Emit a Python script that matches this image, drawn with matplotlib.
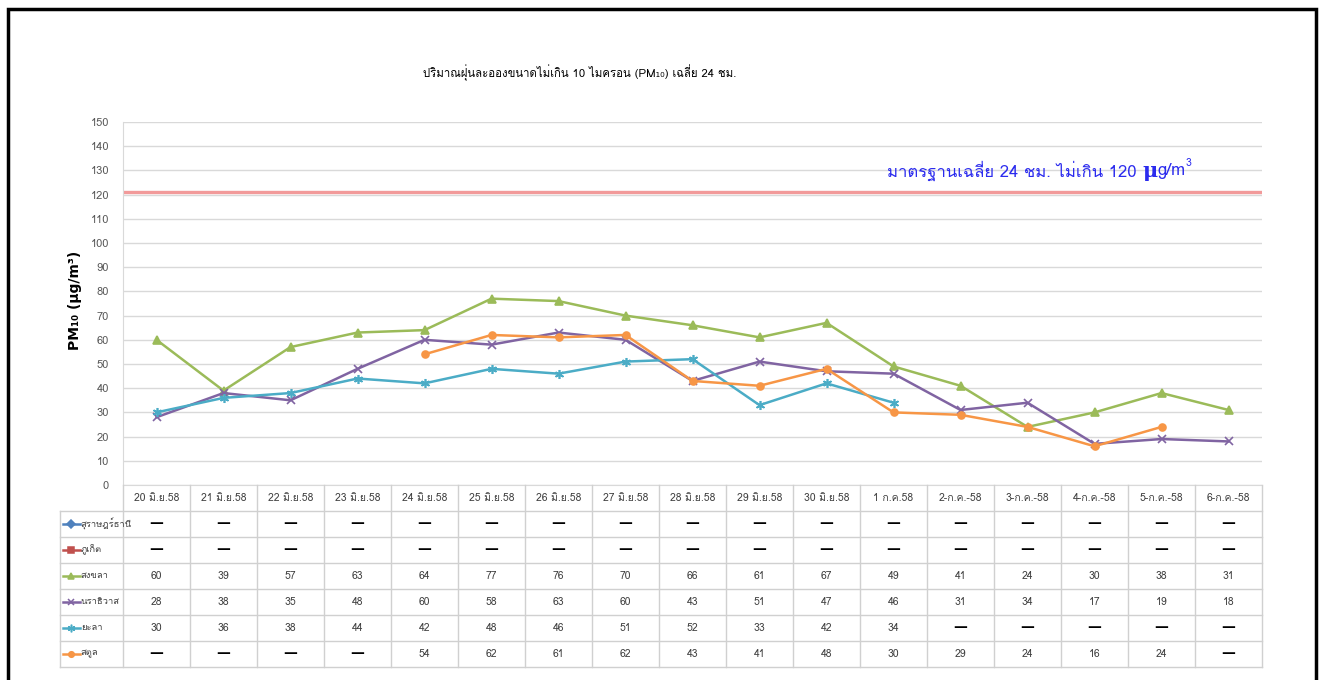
import matplotlib
matplotlib.use('Agg')
import matplotlib.pyplot as plt
from matplotlib import font_manager
from matplotlib.ft2font import FT2Font
from matplotlib.patches import Rectangle
import numpy as np

# ---- data ----
dates = ['20 มิ.ย.58', '21 มิ.ย.58', '22 มิ.ย.58', '23 มิ.ย.58', '24 มิ.ย.58', '25 มิ.ย.58',
         '26 มิ.ย.58', '27 มิ.ย.58', '28 มิ.ย.58', '29 มิ.ย.58', '30 มิ.ย.58', '1 ก.ค.58',
         '2-ก.ค.-58', '3-ก.ค.-58', '4-ก.ค.-58', '5-ก.ค.-58', '6-ก.ค.-58']
stations = ['สุราษฎร์ธานี', 'ภูเก็ต', 'สงขลา', 'นราธิวาส', 'ยะลา', 'สตูล']
surat = [None] * 17
phuket = [None] * 17
songkhla = [60, 39, 57, 63, 64, 77, 76, 70, 66, 61, 67, 49, 41, 24, 30, 38, 31]
narathiwat = [28, 38, 35, 48, 60, 58, 63, 60, 43, 51, 47, 46, 31, 34, 17, 19, 18]
yala = [30, 36, 38, 44, 42, 48, 46, 51, 52, 33, 42, 34, None, None, None, None, None]
satun = [None, None, None, None, 54, 62, 61, 62, 43, 41, 48, 30, 29, 24, 16, 24, None]
standard = 121  # red limit line as drawn

series = [surat, phuket, songkhla, narathiwat, yala, satun]
colors = ['#4F81BD', '#C0504D', '#9BBB59', '#8064A2', '#4BACC6', '#F79646']
markers = ['D', 's', '^', 'x', (6, 2, 0), 'o']
msizes = [5, 5, 5.5, 6, 6.5, 5]


# find an installed font with Thai glyphs
def thai_font():
    for f in font_manager.fontManager.ttflist:
        try:
            if 0x0E01 in FT2Font(f.fname).get_charmap():
                return f.name
        except Exception:
            pass
    return None


tf = thai_font()
fam = [tf, 'DejaVu Sans'] if tf else ['DejaVu Sans']
plt.rcParams['font.family'] = fam

W, H = 1323, 680
fig = plt.figure(figsize=(W / 100, H / 100), dpi=100)
fig.set_facecolor('white')

ax = fig.add_axes([123 / W, 195 / H, 1139 / W, 363 / H])
x = np.arange(len(dates))
for vals, c, m, ms in zip(series, colors, markers, msizes):
    y = np.array([np.nan if v is None else v for v in vals], float)
    ax.plot(x, y, color=c, marker=m, ms=ms, lw=1.8, mew=1.2)

ax.axhline(standard, color='#F29A9A', lw=2.4)
ax.set_xlim(-0.5, 16.5)
ax.set_ylim(0, 150)
ax.set_yticks(range(0, 151, 10))
ax.set_xticks([])
ax.tick_params(axis='y', length=0, labelsize=8, labelcolor='#595959', pad=10)
ax.grid(axis='y', color='#D9D9D9', lw=1)
ax.set_axisbelow(True)
for s in ['top', 'right']:
    ax.spines[s].set_visible(False)
for s in ['left', 'bottom']:
    ax.spines[s].set_color('#D9D9D9')

fig.text(75 / W, 1 - 300 / H, 'PM₁₀ (µg/m³)', rotation=90, ha='center', va='center',
         fontsize=10, fontweight='bold', family=['DejaVu Sans'])

fig.text(580 / W, 1 - 73 / H, 'ปริมาณฝุ่นละอองขนาดไม่เกิน 10 ไมครอน (PM₁₀) เฉลี่ย 24 ชม.',
         ha='center', va='center', fontsize=8.2, color='black')

t1 = fig.text(887 / W, 1 - 171 / H, 'มาตรฐานเฉลี่ย 24 ชม. ไม่เกิน 120 ', ha='left', va='center',
              fontsize=12, color='#2B2BEE')
t2 = ax.annotate('μ', xy=(1, 0.5), xycoords=t1, ha='left', va='center', fontsize=15,
                 fontweight='bold', family=['DejaVu Serif'], color='#2B2BEE')
t3 = ax.annotate('g/m', xy=(1, 0.5), xycoords=t2, ha='left', va='center', fontsize=12,
                 color='#2B2BEE')
ax.annotate('3', xy=(1, 1.0), xycoords=t3, ha='left', va='center', fontsize=7.5,
            color='#2B2BEE')

# ---- data table under the chart ----
tab = fig.add_axes([123 / W, 13 / H, 1139 / W, 182 / H])
tab.set_xlim(-0.5, 16.5)
tab.set_ylim(7, 0)
tab.axis('off')
lc = '#D0D0D0'
left = -0.5 - 63 / 67
for i in range(len(dates) + 1):
    tab.plot([i - 0.5, i - 0.5], [0, 7], color=lc, lw=1, clip_on=False)
tab.plot([left, left], [1, 7], color=lc, lw=1, clip_on=False)
for r in range(1, 8):
    tab.plot([left, 16.5], [r, r], color=lc, lw=1, clip_on=False)

for i, d in enumerate(dates):
    tab.text(i, 0.5, d, ha='center', va='center', fontsize=7.5, color='#404040')

for r, (name, vals, c, m, ms) in enumerate(zip(stations, series, colors, markers, msizes), start=1):
    yc = r + 0.5
    tab.plot([left + 0.04, left + 0.3], [yc, yc], color=c, lw=1.8, clip_on=False)
    tab.plot([left + 0.17], [yc], color=c, marker=m, ms=ms - 1, mew=1.1, clip_on=False)
    tab.text(left + 0.31, yc, name, ha='left', va='center', fontsize=6.8, color='#404040')
    for i, v in enumerate(vals):
        if v is None:
            tab.text(i, yc - 0.05, '—', ha='center', va='center', fontsize=10,
                     fontweight='bold', color='black', family=['DejaVu Sans'])
        else:
            tab.text(i, yc, str(v), ha='center', va='center', fontsize=7.5, color='#404040')

# outer frame
fig.add_artist(Rectangle((7.5 / W, -0.05), 1308 / W, (1 - 9 / H) + 0.05,
                         transform=fig.transFigure, fill=False, ec='black', lw=2.5))

fig.savefig('out.png', dpi=100)
